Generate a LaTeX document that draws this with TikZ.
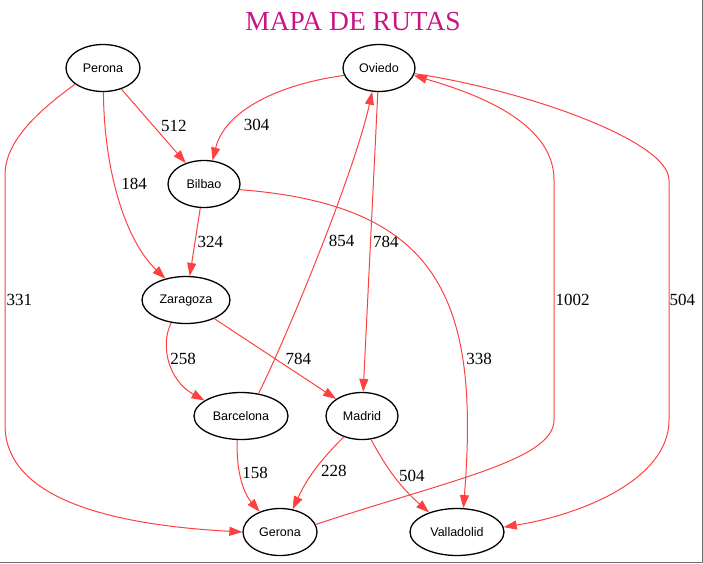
\documentclass[tikz,border=0pt]{standalone}
\usepackage{fontspec}
\setmainfont{Liberation Serif}
\setsansfont{Liberation Sans}
\newfontfamily\titlefont{Liberation Serif}
\usetikzlibrary{shapes.geometric,arrows.meta}

\definecolor{roadred}{RGB}{255,64,64}
\definecolor{titlepink}{RGB}{199,21,133}
\definecolor{framegray}{RGB}{110,110,110}

\tikzset{
  city/.style={ellipse, draw, line width=1.3pt, minimum height=47pt, inner sep=0pt,
    font=\sffamily\fontsize{12.5}{15}\selectfont},
  road/.style={draw=roadred, line width=1pt, -{Triangle[length=13pt,width=9pt]}},
  dist/.style={anchor=west, inner sep=0pt, font=\fontsize{17}{20}\selectfont},
}

\begin{document}
\begin{tikzpicture}[x=1pt,y=1pt]
  \useasboundingbox (0,0) rectangle (703,-563);
  \draw[framegray, line width=1pt] (702.5,0) -- (702.5,-562.5) -- (0,-562.5);

  \node[text=titlepink, font=\titlefont\fontsize{27.5}{32}\selectfont] (title) at (353,-22) {MAPA DE RUTAS};

  % ciudades
  \node[city, minimum width=74pt] (perona)     at (103,-68)  {Perona};
  \node[city, minimum width=72pt] (oviedo)     at (379,-68)  {Oviedo};
  \node[city, minimum width=72pt] (bilbao)     at (204,-184) {Bilbao};
  \node[city, minimum width=88pt] (zaragoza)   at (186,-300) {Zaragoza};
  \node[city, minimum width=94pt] (barcelona)  at (241,-416) {Barcelona};
  \node[city, minimum width=72pt] (madrid)     at (362,-416) {Madrid};
  \node[city, minimum width=74pt] (gerona)     at (280,-532) {Gerona};
  \node[city, minimum width=94pt] (valladolid) at (457,-532) {Valladolid};

  % rutas
  \draw[road] (perona) -- node[dist, pos=.5, xshift=7pt] {512} (bilbao);
  \draw[road] (perona.-89) .. controls (104,-170) and (125,-240) .. node[dist, pos=.42, xshift=6pt] {184} (zaragoza.134);
  \draw[road] (perona.210) .. controls (40,-110) and (5,-140) .. (5,-175)
    -- node[dist, pos=.5, xshift=1pt] {331} (5,-425)
    .. controls (5,-478) and (60,-522) .. (gerona.west);
  \draw[road] (oviedo.192) .. controls (280,-84) and (225,-110) .. node[dist, pos=.73, xshift=12pt] {304} (bilbao.70);
  \draw[road] (oviedo) -- node[dist, pos=.5, xshift=2pt] {784} (madrid);
  \draw[road] (barcelona.52) .. controls (290,-330) and (355,-170) .. node[dist, pos=.52, xshift=5pt] {854} (oviedo.254);
  \draw[road] (gerona.12) .. controls (450,-480) and (554,-460) .. (554,-420)
    -- node[dist, pos=.5, xshift=1pt] {1002} (554,-180)
    .. controls (554,-120) and (470,-92) .. (oviedo.-12);
  \draw[road] (oviedo.-9) .. controls (520,-89) and (669,-140) .. (669,-180)
    -- node[dist, pos=.5] {504} (669,-420)
    .. controls (669,-480) and (580,-515) .. (valladolid.6);
  \draw[road] (bilbao) -- node[dist, pos=.5, xshift=2pt] {324} (zaragoza);
  \draw[road] (bilbao.351) .. controls (440,-205) and (480,-300) .. node[dist, pos=.72, xshift=4pt] {338} (valladolid.75);
  \draw[road] (zaragoza.237) .. controls (160,-345) and (168,-380) .. node[dist, pos=.46, xshift=1pt] {258} (barcelona.157);
  \draw[road] (zaragoza) -- node[dist, pos=.5, xshift=10pt] {784} (madrid);
  \draw[road] (barcelona.261) .. controls (236,-475) and (245,-495) .. node[dist, pos=.37, xshift=2pt] {158} (gerona.135);
  \draw[road] (madrid.229) to[bend right=10] node[dist, pos=.5, xshift=6pt] {228} (gerona.61);
  \draw[road] (madrid.291) to[bend right=10] node[dist, pos=.45, xshift=5pt] {504} (valladolid.145);
\end{tikzpicture}
\end{document}
